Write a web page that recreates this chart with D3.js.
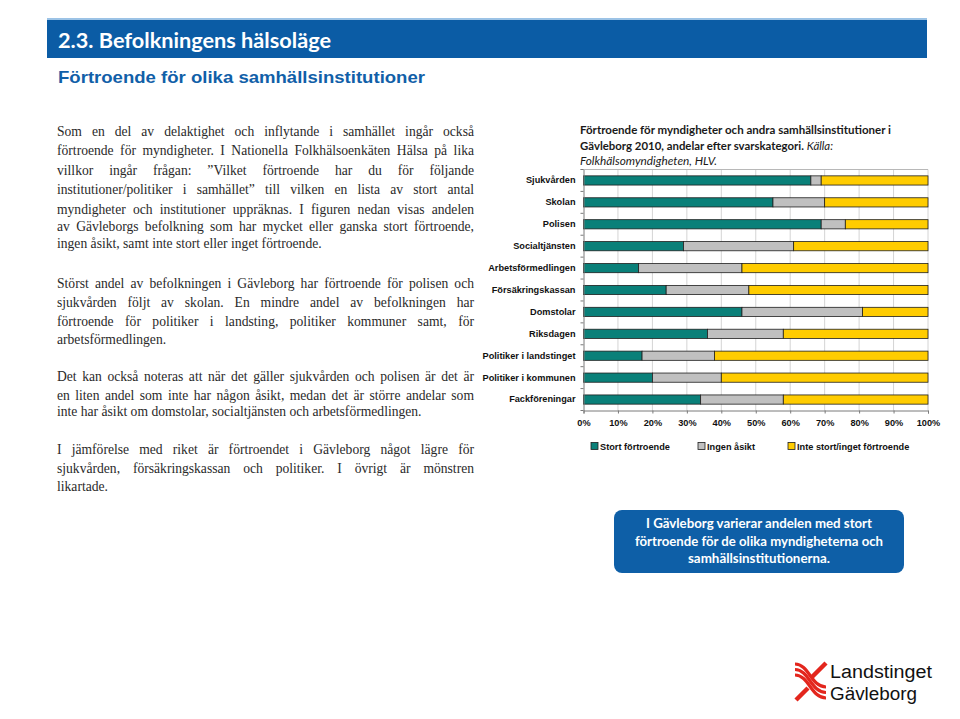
<!DOCTYPE html>
<html><head><meta charset="utf-8">
<script src="https://cdn.jsdelivr.net/npm/d3@7"></script>
<style>
html,body{margin:0;padding:0;background:#fff;}
#page{position:relative;width:960px;height:719px;overflow:hidden;}
svg{position:absolute;left:0;top:0;}
.body{position:absolute;left:57px;width:417px;font-family:"Liberation Serif",serif;font-size:13.6px;color:#2a2a2a;}
.ln{position:absolute;left:0;width:417px;white-space:nowrap;text-align:justify;text-align-last:justify;line-height:16px;}
.ln.last{text-align-last:left;}
</style></head>
<body><div id="page"><svg id="svg" width="960" height="719"></svg><div id="txt"></div></div>
<script>
const categories = ["Sjukvården","Skolan","Polisen","Socialtjänsten","Arbetsförmedlingen","Försäkringskassan","Domstolar","Riksdagen","Politiker i landstinget","Politiker i kommunen","Fackföreningar"];
const stort = [66,55,69,29,16,24,46,36,17,20,34];
const ingen = [3,15,7,32,30,24,35,22,21,20,24];
const inte  = [31,30,24,39,54,52,19,42,62,60,42];
const seriesNames = ["Stort förtroende","Ingen åsikt","Inte stort/inget förtroende"];
const seriesColors = ["#0a8079","#c0c0c0","#ffcc00"];
const xTicks = [0,10,20,30,40,50,60,70,80,90,100];

const bodyLines = [
 [132,"Som en del av delaktighet och inflytande i samhället ingår också",0],
 [151,"förtroende för myndigheter. I Nationella Folkhälsoenkäten Hälsa på lika",0],
 [171,"villkor ingår frågan: ”Vilket förtroende har du för följande",0],
 [190,"institutioner/politiker i samhället” till vilken en lista av stort antal",0],
 [210,"myndigheter och institutioner uppräknas. I figuren nedan visas andelen",0],
 [227,"av Gävleborgs befolkning som har mycket eller ganska stort förtroende,",0],
 [244,"ingen åsikt, samt inte stort eller inget förtroende.",1],
 [284,"Störst andel av befolkningen i Gävleborg har förtroende för polisen och",0],
 [303,"sjukvården följt av skolan. En mindre andel av befolkningen har",0],
 [322,"förtroende för politiker i landsting, politiker kommuner samt, för",0],
 [340,"arbetsförmedlingen.",1],
 [377,"Det kan också noteras att när det gäller sjukvården och polisen är det är",0],
 [396,"en liten andel som inte har någon åsikt, medan det är större andelar som",0],
 [412,"inte har åsikt om domstolar, socialtjänsten och arbetsförmedlingen.",1],
 [450,"I jämförelse med riket är förtroendet i Gävleborg något lägre för",0],
 [469,"sjukvården, försäkringskassan och politiker. I övrigt är mönstren",0],
 [487,"likartade.",1]
];

const svg = d3.select("#svg");

svg.append("rect").attr("x",47).attr("y",18).attr("width",880).attr("height",2).attr("fill","#9cc3e6");
svg.append("rect").attr("x",47).attr("y",20).attr("width",880).attr("height",38).attr("fill","#0b5ca5");
svg.append("text").attr("x",58).attr("y",48).attr("fill","#fff")
  .attr("font-family","Lato, 'Open Sans', sans-serif").attr("font-size",20).attr("font-weight","bold")
  .attr("textLength",273).attr("lengthAdjust","spacingAndGlyphs")
  .text("2.3. Befolkningens hälsoläge");
svg.append("text").attr("x",58).attr("y",83).attr("fill","#1160a8")
  .attr("font-family","'Liberation Sans', Arial, sans-serif").attr("font-size",16.5).attr("font-weight","bold")
  .attr("textLength",367).attr("lengthAdjust","spacingAndGlyphs")
  .text("Förtroende för olika samhällsinstitutioner");

const txt = d3.select("#txt");
bodyLines.forEach(d=>{
  txt.append("div").attr("class","body").style("top",(d[0]-8)+"px")
    .append("div").attr("class","ln"+(d[2]?" last":"")).text(d[1]);
});

const tf = "Lato, 'Open Sans', sans-serif";
svg.append("text").attr("x",580).attr("y",134).attr("font-family",tf).attr("font-size",11.5).attr("font-weight","bold").attr("fill","#1a1a1a")
  .attr("textLength",311).attr("lengthAdjust","spacingAndGlyphs").text("Förtroende för myndigheter och andra samhällsinstitutioner i");
const t2 = svg.append("text").attr("x",580).attr("y",150).attr("font-family",tf).attr("font-size",11.5).attr("fill","#1a1a1a")
  .attr("textLength",253).attr("lengthAdjust","spacingAndGlyphs");
t2.append("tspan").attr("font-weight","bold").text("Gävleborg 2010, andelar efter svarskategori. ");
t2.append("tspan").attr("font-style","italic").text("Källa:");
svg.append("text").attr("x",580).attr("y",165).attr("font-family",tf).attr("font-size",11.5).attr("font-style","italic").attr("fill","#1a1a1a")
  .attr("textLength",137).attr("lengthAdjust","spacingAndGlyphs").text("Folkhälsomyndigheten, HLV.");

const x0 = 583.5, x1 = 928, yTop = 169.5, yBot = 410.5;
const x = d3.scaleLinear().domain([0,100]).range([x0,x1]);
const y = d3.scaleBand().domain(categories).range([yTop,yBot]).paddingInner(0.58).paddingOuter(0.29);

const g = svg.append("g");
g.selectAll("line.grid").data(xTicks.slice(1)).enter().append("line")
  .attr("x1",d=>x(d)).attr("x2",d=>x(d)).attr("y1",yTop).attr("y2",yBot)
  .attr("stroke","#d4d4d4").attr("stroke-width",1);
g.append("line").attr("x1",x0-3).attr("x2",x1).attr("y1",yTop).attr("y2",yTop).attr("stroke","#b8b8b8");

const rows = categories.map((c,i)=>({cat:c,a:stort[i],b:ingen[i],c:inte[i]}));
const stack = d3.stack().keys(["a","b","c"])(rows);
stack.forEach((s,si)=>{
  g.selectAll(null).data(s).enter().append("rect")
    .attr("x",d=>x(d[0])).attr("width",d=>x(d[1])-x(d[0]))
    .attr("y",d=>y(d.data.cat)).attr("height",y.bandwidth())
    .attr("fill",seriesColors[si]).attr("stroke","#1e1e1e").attr("stroke-width",0.8);
});

const yAxis = d3.axisLeft(y).tickSize(0).tickPadding(8);
const ya = g.append("g").attr("transform",`translate(${x0},0)`).call(yAxis);
ya.select(".domain").attr("stroke","#7a7a7a");
ya.selectAll("text").attr("font-family","'Liberation Sans', Arial, sans-serif").attr("font-size",9.2).attr("font-weight","bold").attr("fill","#111");
const bounds = d3.range(categories.length+1).map(i=>yTop + i*y.step());
g.selectAll(null).data(bounds).enter().append("line")
  .attr("x1",x0-3).attr("x2",x0).attr("y1",d=>d).attr("y2",d=>d).attr("stroke","#7a7a7a");

const xAxis = d3.axisBottom(x).tickValues(xTicks).tickFormat(d=>d+"%").tickSize(3).tickPadding(6);
const xa = g.append("g").attr("transform",`translate(0,${yBot})`).call(xAxis);
xa.select(".domain").attr("stroke","#7a7a7a");
xa.selectAll(".tick line").attr("stroke","#7a7a7a");
xa.selectAll("text").attr("font-family","'Liberation Sans', Arial, sans-serif").attr("font-size",9.2).attr("font-weight","bold").attr("fill","#111");

const legX = [591,698,788];
const leg = g.selectAll("g.leg").data(seriesNames).enter().append("g")
  .attr("transform",(d,i)=>`translate(${legX[i]},446)`);
leg.append("rect").attr("x",0).attr("y",-3.5).attr("width",7).attr("height",7)
  .attr("fill",(d,i)=>seriesColors[i]).attr("stroke","#1e1e1e").attr("stroke-width",0.8);
leg.append("text").attr("x",9).attr("y",3.5).text(d=>d)
  .attr("font-family","'Liberation Sans', Arial, sans-serif").attr("font-size",9.2).attr("font-weight","bold").attr("fill","#111");

svg.append("rect").attr("x",614).attr("y",510).attr("width",290).attr("height",63).attr("rx",8)
  .attr("fill","#0e5fa7");
const cl = ["I Gävleborg varierar andelen med stort","förtroende för de olika myndigheterna och","samhällsinstitutionerna."];
const clW = [226,248,142];
cl.forEach((s,i)=>{
  svg.append("text").attr("x",759).attr("y",528+i*17.5).attr("text-anchor","middle")
    .attr("font-family",tf).attr("font-size",12.5).attr("font-weight","bold").attr("fill","#fff")
    .attr("textLength",clW[i]).attr("lengthAdjust","spacingAndGlyphs").text(s);
});

const lg = svg.append("g").attr("fill","none").attr("stroke","#e3261d").attr("stroke-width",3.2);
[0,1,2].forEach(i=>{
  lg.append("path").attr("d",`M795,${664+i*5.5} C809,${664+i*5.5} 811,${687+i*5.5} 826,${687+i*5.5}`);
});
lg.append("path").attr("stroke-width",4.5).attr("d","M826,663 L811,678");
lg.append("path").attr("stroke-width",4.5).attr("d","M808,688 L796,700");
svg.append("text").attr("x",830).attr("y",678).attr("font-family","'Liberation Sans', Arial, sans-serif").attr("font-size",18)
  .attr("fill","#111").attr("textLength",102).attr("lengthAdjust","spacingAndGlyphs").text("Landstinget");
svg.append("text").attr("x",830).attr("y",700).attr("font-family","'Liberation Sans', Arial, sans-serif").attr("font-size",18)
  .attr("fill","#111").attr("textLength",87).attr("lengthAdjust","spacingAndGlyphs").text("Gävleborg");
</script></body></html>
